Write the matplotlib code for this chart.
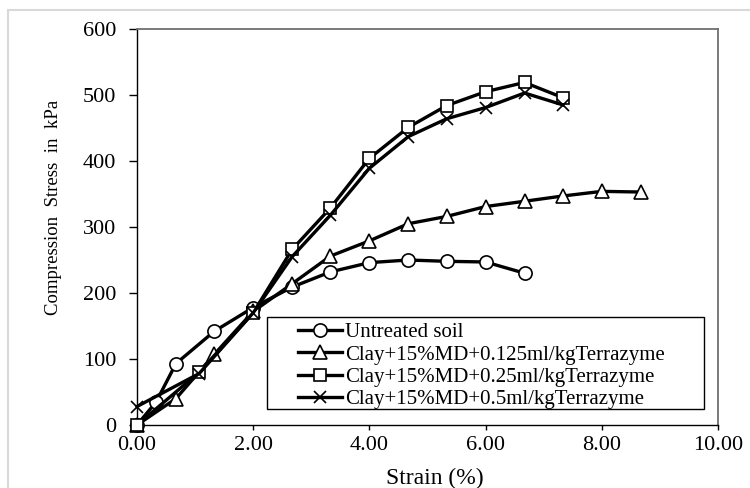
import matplotlib
matplotlib.use("Agg")
import matplotlib.pyplot as plt
from matplotlib.patches import Rectangle
from matplotlib.ticker import FormatStrFormatter

# ---- data ----
untreated_x = [0, 0.33, 0.67, 1.33, 2.0, 2.67, 3.33, 4.0, 4.67, 5.33, 6.0, 6.67]
untreated_y = [0, 35, 93, 142, 178, 209, 232, 246, 250, 248, 247, 230]

t125_x = [0, 0.67, 1.33, 2.0, 2.67, 3.33, 4.0, 4.67, 5.33, 6.0, 6.67, 7.33, 8.0, 8.67]
t125_y = [0, 40, 107, 172, 214, 256, 279, 305, 316, 331, 339, 347, 354, 353]

t25_x = [0, 1.07, 2.0, 2.67, 3.33, 4.0, 4.67, 5.33, 6.0, 6.67, 7.33]
t25_y = [0, 80, 170, 266, 329, 404, 451, 484, 505, 519, 496]

t5_x = [0, 1.07, 2.0, 2.67, 3.33, 4.0, 4.67, 5.33, 6.0, 6.67, 7.33]
t5_y = [28, 78, 170, 255, 318, 389, 437, 464, 481, 503, 485]

labels = ["Untreated soil",
          "Clay+15%MD+0.125ml/kgTerrazyme",
          "Clay+15%MD+0.25ml/kgTerrazyme",
          "Clay+15%MD+0.5ml/kgTerrazyme"]
x_ticks = [0, 2, 4, 6, 8, 10]
y_ticks = [0, 100, 200, 300, 400, 500, 600]

plt.rcParams['font.family'] = ['Liberation Serif', 'DejaVu Serif']

fig = plt.figure(figsize=(7.5, 4.88), dpi=100)
# outer light frame
fig.patches.append(Rectangle((8/750, -0.1), 1.2, 1.1 - 10/488, transform=fig.transFigure,
                             fill=False, edgecolor='#d9d9d9', linewidth=1.5))

ax = fig.add_axes([137/750, 63/488, 581/750, 396/488])

lw = 2.4
common = dict(color='black', linewidth=lw, markeredgecolor='black',
              markerfacecolor='white', markeredgewidth=1.2, clip_on=False)
ax.plot(untreated_x, untreated_y, marker='o', markersize=9.5, label=labels[0], zorder=3, **common)
ax.plot(t125_x, t125_y, marker='^', markersize=10, label=labels[1], zorder=3, **common)
ax.plot(t25_x, t25_y, marker='s', markersize=9, label=labels[2], zorder=3, **common)
ax.plot(t5_x, t5_y, marker='x', markersize=9, label=labels[3], zorder=3, **common)

ax.set_xlim(0, 10)
ax.set_ylim(0, 600)
ax.set_xticks(x_ticks)
ax.set_yticks(y_ticks)
ax.xaxis.set_major_formatter(FormatStrFormatter('%.2f'))

for side in ['top', 'right']:
    ax.spines[side].set_color('#707070')
    ax.spines[side].set_linewidth(1.3)
for side in ['left', 'bottom']:
    ax.spines[side].set_color('black')
    ax.spines[side].set_linewidth(1.0)

ax.tick_params(axis='y', direction='out', length=6, width=1, pad=9, labelsize=16)
ax.tick_params(axis='x', direction='out', length=3.6, width=1, pad=4, labelsize=16)

ax.set_xlabel('Strain (%)', fontsize=17)
ax.xaxis.label.set_va('center')
ax.xaxis.set_label_coords(0.512, -0.135)
ax.set_ylabel('Compression  Stress  in  kPa', fontsize=13.5)
ax.yaxis.label.set_va('center')
ax.yaxis.set_label_coords(-0.143, 0.549)

# legend box
ax.add_patch(Rectangle((0.2241, 0.0404), 0.7518, 0.2323, transform=ax.transAxes,
                       facecolor='white', edgecolor='black', linewidth=1.0, zorder=5,
                       clip_on=False))
leg = ax.legend(loc='upper left', bbox_to_anchor=(0.2776, 0.258), frameon=False,
                fontsize=15, borderpad=0, borderaxespad=0, handlelength=2.1,
                handletextpad=0.15, labelspacing=0.13)
leg.set_zorder(6)

fig.savefig('out.png', dpi=100)
